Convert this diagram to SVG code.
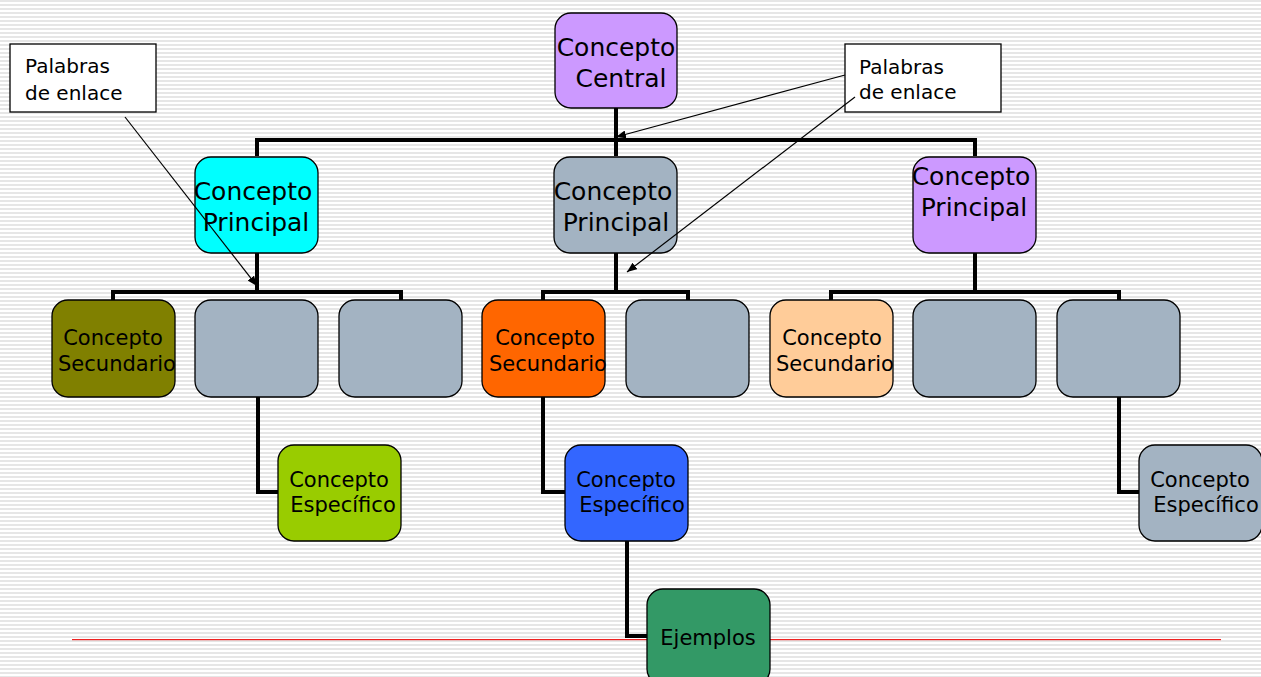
<svg xmlns="http://www.w3.org/2000/svg" width="1261" height="677" viewBox="0 0 1261 677">
<defs>
<pattern id="stripes" width="8" height="4" patternUnits="userSpaceOnUse">
<rect width="8" height="4" fill="#ffffff"/>
<rect y="0" width="8" height="2" fill="#e6e6e6"/>
</pattern>
<marker id="ah" markerWidth="10" markerHeight="8" refX="10" refY="4" orient="auto" markerUnits="userSpaceOnUse">
<path d="M0,0 L10,4 L0,8 Z" fill="#000"/>
</marker>
<style>
.box{stroke:#000;stroke-width:1.3}
.t{font-family:"DejaVu Sans",Verdana,sans-serif;fill:#000}
.big{font-size:25px}
.mid{font-size:21px}
.sm{font-size:20px}
.con{fill:none;stroke:#000;stroke-width:4}
.arr{fill:none;stroke:#000;stroke-width:1.2}
.lbl{fill:#fff;stroke:#000;stroke-width:1.3}
</style>
</defs>
<rect width="1261" height="677" fill="url(#stripes)"/>
<rect x="72" y="639" width="1149" height="1.2" fill="#ee2222"/>

<g id="connectors">
<path class="con" d="M616,108 V140 M257,156 V140 H975 V156 M616,140 V156"/>
<path class="con" d="M257,253 V292 M113,300 V292 H401 V300"/>
<path class="con" d="M616,253 V292 M543,300 V292 H688 V300"/>
<path class="con" d="M975,253 V292 M831,300 V292 H1119 V300"/>
<path class="con" d="M258,397 V492 H278"/>
<path class="con" d="M543,397 V492 H565"/>
<path class="con" d="M627,541 V636 H647"/>
<path class="con" d="M1119,397 V492 H1139"/>
</g>

<g id="central">
<rect class="box" x="555" y="13" width="122" height="95" rx="16" fill="#cc99ff"/>
<text class="t big" x="616" y="56" text-anchor="middle">Concepto</text>
<text class="t big" x="621" y="87" text-anchor="middle">Central</text>
</g>

<g id="principal1">
<rect class="box" x="195" y="157" width="123" height="96" rx="16" fill="#00ffff"/>
<text class="t big" x="253" y="200" text-anchor="middle">Concepto</text>
<text class="t big" x="256" y="231" text-anchor="middle">Principal</text>
</g>
<g id="principal2">
<rect class="box" x="554" y="157" width="123" height="96" rx="16" fill="#a3b3c2"/>
<text class="t big" x="613" y="200" text-anchor="middle">Concepto</text>
<text class="t big" x="616" y="231" text-anchor="middle">Principal</text>
</g>
<g id="principal3">
<rect class="box" x="913" y="157" width="123" height="96" rx="16" fill="#cc99ff"/>
<text class="t big" x="971" y="185" text-anchor="middle">Concepto</text>
<text class="t big" x="974" y="216" text-anchor="middle">Principal</text>
</g>

<g id="secundario1">
<rect class="box" x="52" y="300" width="123" height="97" rx="16" fill="#808000"/>
<text class="t mid" x="113" y="345" text-anchor="middle">Concepto</text>
<text class="t mid" x="117" y="371" text-anchor="middle">Secundario</text>
</g>
<g id="vacio1"><rect class="box" x="195" y="300" width="123" height="97" rx="16" fill="#a3b3c2"/></g>
<g id="vacio2"><rect class="box" x="339" y="300" width="123" height="97" rx="16" fill="#a3b3c2"/></g>
<g id="secundario2">
<rect class="box" x="482" y="300" width="123" height="97" rx="16" fill="#ff6600"/>
<text class="t mid" x="545" y="345" text-anchor="middle">Concepto</text>
<text class="t mid" x="548" y="371" text-anchor="middle">Secundario</text>
</g>
<g id="vacio3"><rect class="box" x="626" y="300" width="123" height="97" rx="16" fill="#a3b3c2"/></g>
<g id="secundario3">
<rect class="box" x="770" y="300" width="123" height="97" rx="16" fill="#ffcc99"/>
<text class="t mid" x="832" y="345" text-anchor="middle">Concepto</text>
<text class="t mid" x="835" y="371" text-anchor="middle">Secundario</text>
</g>
<g id="vacio4"><rect class="box" x="913" y="300" width="123" height="97" rx="16" fill="#a3b3c2"/></g>
<g id="vacio5"><rect class="box" x="1057" y="300" width="123" height="97" rx="16" fill="#a3b3c2"/></g>

<g id="especifico1">
<rect class="box" x="278" y="445" width="123" height="96" rx="16" fill="#99cc00"/>
<text class="t mid" x="339" y="487" text-anchor="middle">Concepto</text>
<text class="t mid" x="343" y="512" text-anchor="middle">Específico</text>
</g>
<g id="especifico2">
<rect class="box" x="565" y="445" width="123" height="96" rx="16" fill="#3366ff"/>
<text class="t mid" x="626" y="487" text-anchor="middle">Concepto</text>
<text class="t mid" x="632" y="512" text-anchor="middle">Específico</text>
</g>
<g id="especifico3">
<rect class="box" x="1139" y="445" width="123" height="96" rx="16" fill="#a3b3c2"/>
<text class="t mid" x="1200" y="487" text-anchor="middle">Concepto</text>
<text class="t mid" x="1206" y="512" text-anchor="middle">Específico</text>
</g>

<g id="ejemplos">
<rect class="box" x="647" y="589" width="123" height="96" rx="16" fill="#339966"/>
<text class="t mid" x="708" y="645" text-anchor="middle">Ejemplos</text>
</g>

<g id="palabras1">
<rect class="lbl" x="10" y="44" width="146" height="68"/>
<text class="t sm" x="25" y="73">Palabras</text>
<text class="t sm" x="25" y="100">de enlace</text>
</g>
<g id="palabras2">
<rect class="lbl" x="845" y="44" width="156" height="68"/>
<text class="t sm" x="859" y="74">Palabras</text>
<text class="t sm" x="859" y="99">de enlace</text>
</g>

<g id="arrows">
<line class="arr" x1="125" y1="117" x2="257" y2="286" marker-end="url(#ah)"/>
<line class="arr" x1="845" y1="75" x2="616" y2="137" marker-end="url(#ah)"/>
<line class="arr" x1="855" y1="97" x2="627" y2="272" marker-end="url(#ah)"/>
</g>
</svg>
